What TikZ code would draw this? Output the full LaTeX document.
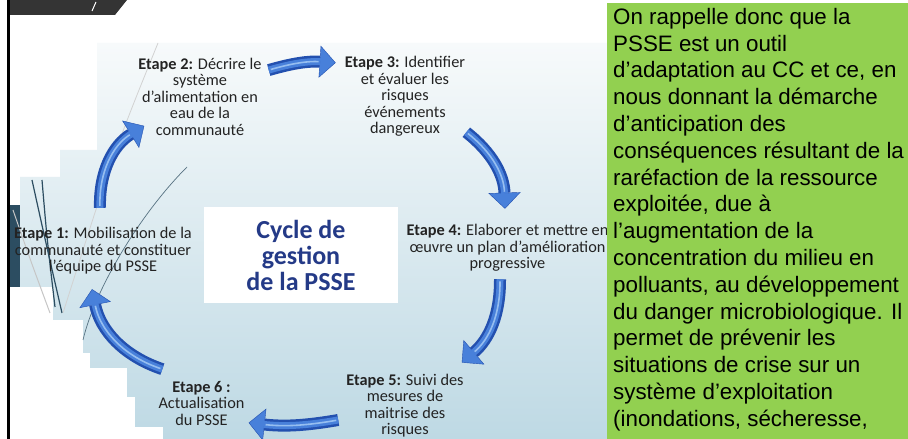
\documentclass[tikz,border=0pt]{standalone}
\usepackage{fontspec}
\setmainfont{Carlito}
\newfontfamily\arialfont{Liberation Sans}
\usetikzlibrary{calc,arrows.meta}
\definecolor{pssenavy}{RGB}{36,58,135}
\definecolor{pssegreen}{RGB}{146,208,80}
\definecolor{pssteal}{RGB}{44,77,97}
\definecolor{cycdark}{RGB}{35,80,175}
\definecolor{cycmid}{RGB}{72,128,218}
\definecolor{cyclight}{RGB}{150,190,240}
\definecolor{paneltop}{RGB}{247,250,251}
\definecolor{panelbot}{RGB}{190,217,228}
\definecolor{tabgray}{RGB}{52,52,52}
\definecolor{steptext}{RGB}{35,35,35}

\begin{document}
\begin{tikzpicture}[x=1pt,y=1pt,
  etape/.style={inner sep=0pt, align=center, text=steptext,
    font=\fontsize{16.3}{16.5}\selectfont},
  titlebox/.style={fill=white, inner sep=0pt, minimum width=194pt,
    minimum height=96pt, align=center, text=pssenavy,
    font=\fontsize{26}{26}\selectfont\bfseries},
  cycarrow/.style={draw=cycdark, line width=12pt,
    -{Triangle[width=32pt,length=16pt,line width=0.4pt,fill=cycmid]}},
  cycshine/.style={draw=cycmid, line width=7pt, shorten >=15pt},
  cycglint/.style={draw=cyclight, line width=1.6pt, shorten >=17pt, shorten <=2pt},
  decoline/.style={draw=pssteal, line width=1.2pt},
  greentext/.style={inner sep=0pt, align=left,
    font=\arialfont\fontsize{22.35}{26.8}\selectfont}
]
\useasboundingbox (0,0) rectangle (908,439);
\fill[white] (0,0) rectangle (908,439);

% Stepped background of the cycle
\shade[top color=paneltop, bottom color=panelbot]
  (97,396) -- (607,396) -- (607,0) -- (163,0) -- (163,12) -- (135,12)
  -- (135,42) -- (127,42) -- (127,71) -- (90,71) -- (90,86) -- (83,86)
  -- (83,119) -- (53,119) -- (53,152) -- (20,152) -- (20,262) -- (60,262)
  -- (60,289) -- (97,289) -- cycle;

% Left decorations
\fill[pssteal] (10,152) rectangle (20,234);
\draw[gray!45, line width=1pt] (13,229) .. controls (30,180) .. (50,126);
\draw[decoline] (32,259) .. controls (45,200) .. (62,126);
\draw[decoline] (42,259) .. controls (47,200) .. (55,132);
\draw[gray!35, line width=0.8pt] (158,396) .. controls (115,290) .. (63,126);
\draw[pssteal!80, line width=0.7pt] (187,272) .. controls (140,225) and (95,150) .. (83,99);

% Steps of the cycle
\node[etape] (e1) at (103,188) {\textbf{Etape 1:} Mobilisation de la\\communauté et constituer\\l’équipe du PSSE};
\node[etape] (e2) at (200,342.5) {\textbf{Etape 2:} Décrire le\\système\\d’alimentation en\\eau de la\\communauté};
\node[etape] (e3) at (405,342.5) {\textbf{Etape 3:} Identifier\\et évaluer les\\risques\\événements\\dangereux};
\node[etape] (e4) at (507.5,191) {\textbf{Etape 4:} Elaborer et mettre en\\œuvre un plan d’amélioration\\progressive};
\node[etape] (e5) at (405,33.5) {\textbf{Etape 5:} Suivi des\\mesures de\\maitrise des\\risques};
\node[etape] (e6) at (201.5,36) {\textbf{Etape 6 :}\\Actualisation\\du PSSE};

% Title in the middle
\node[titlebox] (cycle) at (301,184) {Cycle de\\gestion\\de la PSSE};

% Arrow ends
\coordinate (t12) at ($(e1.north)+(-3,19.5)$);
\coordinate (h12) at ($(e2.south west)+(6,9.5)$);
\coordinate (t23) at ($(e2.north east)+(7,-12.5)$);
\coordinate (h23) at ($(e3.north west)+(-9,-6.5)$);
\coordinate (t34) at ($(e3.south east)+(1,4.5)$);
\coordinate (h34) at ($(e4.north)+(-2.5,15.5)$);
\coordinate (t45) at ($(e4.south)+(-7.5,-7.5)$);
\coordinate (h45) at ($(e5.north east)+(-2,11)$);
\coordinate (t56) at ($(e5.west)+(-8,-14.5)$);
\coordinate (h56) at ($(e6.south east)+(4,2.5)$);
\coordinate (t61) at ($(e6.north west)+(4,11.5)$);
\coordinate (h61) at ($(e1.south)+(-11,-14.5)$);

% Cycle arrows
\foreach \from/\to/\bend in {t12/h12/30, t23/h23/10, t34/h34/25, t45/h45/25, t56/h56/8, t61/h61/30} {
  \draw[cycarrow] (\from) to[bend left=\bend] (\to);
  \draw[cycshine] (\from) to[bend left=\bend] (\to);
  \draw[cycglint] (\from) to[bend left=\bend] (\to);
}

% Green text box
\fill[pssegreen] (607,0) rectangle (908,436);
\node[greentext, anchor=north west] (note) at (613,431) {On rappelle donc que la\\PSSE est un outil\\d’adaptation au CC et ce, en\\nous donnant la démarche\\d’anticipation des\\conséquences résultant de la\\raréfaction de la ressource\\exploitée, due à\\l’augmentation de la\\concentration du milieu en\\polluants, au développement\\du danger microbiologique. Il\\permet de prévenir les\\situations de crise sur un\\système d’exploitation\\(inondations, sécheresse,};

% Slide frame
\fill[tabgray] (7,439) -- (127,439) -- (115,424) -- (7,424) -- cycle;
\draw[white, line width=1pt] (96,437) -- (92,428);
\draw[black, line width=2.6pt] (8.5,0) -- (8.5,439);
\end{tikzpicture}
\end{document}
